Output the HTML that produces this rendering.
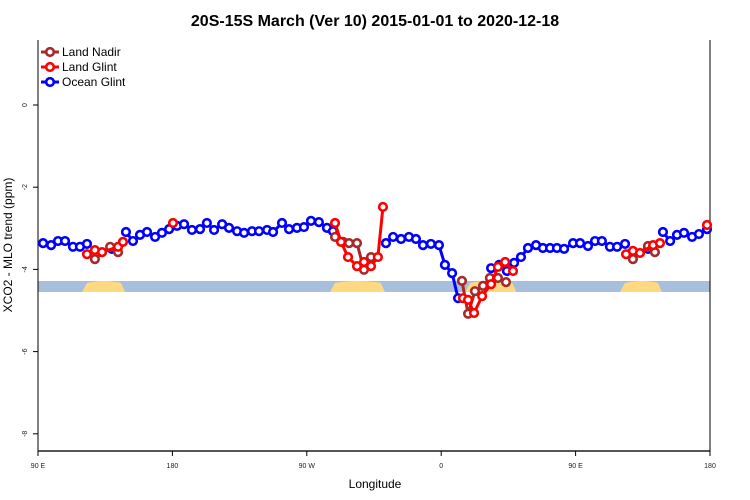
<!DOCTYPE html>
<html><head><meta charset="utf-8"><style>
body{margin:0;background:#fff;}
svg{display:block;font-family:"Liberation Sans",sans-serif;}
</style></head><body>
<svg id="chart" width="750" height="500">
<text x="375" y="26" text-anchor="middle" font-size="16" font-weight="bold">20S-15S March (Ver 10)   2015-01-01 to 2020-12-18</text>
<g id="band"></g>
<g id="axes"></g>
<g id="series"></g>
<text x="375" y="488" text-anchor="middle" font-size="12">Longitude</text>
<text transform="translate(12,245) rotate(-90)" text-anchor="middle" font-size="12">XCO2 - MLO trend (ppm)</text>
<g id="legend"></g>
</svg>
<script>
const xTicks=[90,180,270,360,450,540];
const xTickLabels=["90 E","180","90 W","0","90 E","180"];
const yTicks=[0,-2,-4,-6,-8];
const oceanLon=[93.4,98.8,103.4,108.1,113.4,118.1,122.8,139.5,148.9,153.6,158.3,163.0,168.4,173.0,177.8,183.1,187.8,193.1,198.5,203.1,207.9,213.3,217.9,223.3,228.0,233.3,238.0,243.4,247.4,253.4,258.1,263.4,268.1,272.8,278.1,283.5,287.5,323.0,327.8,333.1,338.4,343.1,347.8,353.1,358.5,362.5,367.3,371.3,393.4,398.8,404.0,408.8,413.4,418.1,423.5,428.1,432.9,437.5,442.3,448.3,453.0,458.3,463.0,467.6,473.0,477.8,483.1,498.5,508.5,513.3,517.9,522.6,528.0,532.6,538.0];
const oceanVal=[-3.36,-3.41,-3.31,-3.31,-3.45,-3.45,-3.38,-3.50,-3.09,-3.31,-3.16,-3.09,-3.21,-3.11,-3.02,-2.94,-2.90,-3.04,-3.02,-2.87,-3.04,-2.90,-2.99,-3.07,-3.11,-3.07,-3.07,-3.04,-3.09,-2.87,-3.02,-2.99,-2.97,-2.82,-2.85,-2.99,-3.07,-3.36,-3.21,-3.26,-3.21,-3.26,-3.41,-3.38,-3.41,-3.89,-4.09,-4.70,-3.97,-3.89,-4.04,-3.84,-3.70,-3.48,-3.41,-3.48,-3.48,-3.48,-3.50,-3.36,-3.36,-3.43,-3.31,-3.31,-3.45,-3.45,-3.38,-3.50,-3.09,-3.31,-3.16,-3.11,-3.21,-3.14,-3.02];
const glintLon=[122.8,128.1,132.9,143.6,146.9,180.4,288.9,292.9,297.6,303.6,308.3,313.0,317.6,321.0,374.6,378.0,382.0,387.4,393.4,398.0,402.8,408.1,483.8,488.4,493.1,501.9,506.5,538.0];
const glintVal=[-3.63,-3.53,-3.58,-3.45,-3.33,-2.87,-2.87,-3.33,-3.70,-3.92,-3.82,-3.92,-3.70,-2.48,-4.70,-4.74,-5.06,-4.65,-4.36,-3.94,-3.82,-4.04,-3.63,-3.55,-3.60,-3.41,-3.36,-2.92];
const nadirLon=[128.1,138.3,143.6,288.9,294.3,298.3,303.6,308.3,313.0,373.9,378.0,382.6,388.0,392.6,398.0,403.4,488.4,498.5,503.1];
const nadirVal=[-3.75,-3.45,-3.58,-3.21,-3.33,-3.36,-3.36,-4.01,-3.70,-4.28,-5.08,-4.53,-4.40,-4.21,-4.21,-4.31,-3.75,-3.43,-3.58];
const landStart=[121.5,287.5,378,481.7];
const landEnd=[147,321,409,506.5];

const NS="http://www.w3.org/2000/svg";
const X0=38,X1=710,Y0=105,PPU=41.1;
function xs(l){return X0+(l-90)*(X1-X0)/450;}
function ys(v){return Y0-v*PPU;}
function mk(tag,attrs,parent){const e=document.createElementNS(NS,tag);for(const k in attrs)e.setAttribute(k,attrs[k]);parent.appendChild(e);return e;}
const axes=document.getElementById('axes');
let e=mk('line',{x1:X0,y1:40,x2:X0,y2:455,stroke:'#000'},axes);


e=mk('line',{x1:X0,y1:451,x2:X1,y2:451,stroke:'#555','stroke-width':2},axes);


e=mk('line',{x1:X1,y1:40,x2:X1,y2:455,stroke:'#000'},axes);


xTicks.forEach((t,i)=>{
 const x=xs(t);
 let l=mk('line',{x1:x,y1:451,x2:x,y2:456,stroke:'#000'},axes);
 
 
 let tx=mk('text',{x:x,y:468,'font-size':7,'text-anchor':'middle',fill:'#222'},axes);
 tx.textContent=xTickLabels[i];
 
 
});
yTicks.forEach(t=>{
 const y=ys(t);
 let l=mk('line',{x1:X0-5,y1:y,x2:X0,y2:y,stroke:'#000'},axes);
 
 
 let tx=mk('text',{x:0,y:0,'font-size':7,'text-anchor':'middle',fill:'#222',transform:`translate(27,${y}) rotate(-90)`},axes);
 tx.textContent=String(t);
 
 
});
const band=document.getElementById('band');
e=mk('rect',{x:X0,y:281,width:X1-X0,height:11,fill:'#a7bedc'},band);


landStart.forEach((s,i)=>{
 const a=xs(s),b=xs(landEnd[i]);
 let p=mk('path',{d:`M${a-3},292 L${a+2},283 Q${(a+b)/2},279 ${b-2},283 L${b+2},292 Z`,fill:'#ffd97f'},band);
 
 
});
const ser=document.getElementById('series');
function draw(lon,val,color,gap,name){
 const g=mk('g',{},ser);
 
 
 let seg=[];
 const segs=[];
 lon.forEach((l,i)=>{if(i>0&&l-lon[i-1]>gap){segs.push(seg);seg=[];}seg.push([xs(l),ys(val[i])]);});
 segs.push(seg);
 segs.forEach(s=>{if(s.length>1){let pl=mk('polyline',{points:s.map(p=>p.join(',')).join(' '),fill:'none',stroke:color,'stroke-width':3},g);
  
  }});
 lon.forEach((l,i)=>{let c=mk('circle',{cx:xs(l),cy:ys(val[i]),r:3.8,fill:'#fff',stroke:color,'stroke-width':2.6},g);
  
  });
}
draw(oceanLon,oceanVal,'#0000ff',7.5,'ocean-glint');
draw(nadirLon,nadirVal,'#a52a2a',12.5,'land-nadir');
draw(glintLon,glintVal,'#ff0000',12.5,'land-glint');
const leg=document.getElementById('legend');
[['Land Nadir','#a52a2a'],['Land Glint','#ff0000'],['Ocean Glint','#0000ff']].forEach((d,i)=>{
 const y=52+i*15;
 const g=mk('g',{},leg);
 
 
 mk('line',{x1:41,y1:y,x2:59,y2:y,stroke:d[1],'stroke-width':3},g);
 mk('circle',{cx:50,cy:y,r:3.8,fill:'#fff',stroke:d[1],'stroke-width':2.6},g);
 const t=mk('text',{x:62,y:y+4,'font-size':12},g);
 t.textContent=d[0];
});
</script>
</body></html>
